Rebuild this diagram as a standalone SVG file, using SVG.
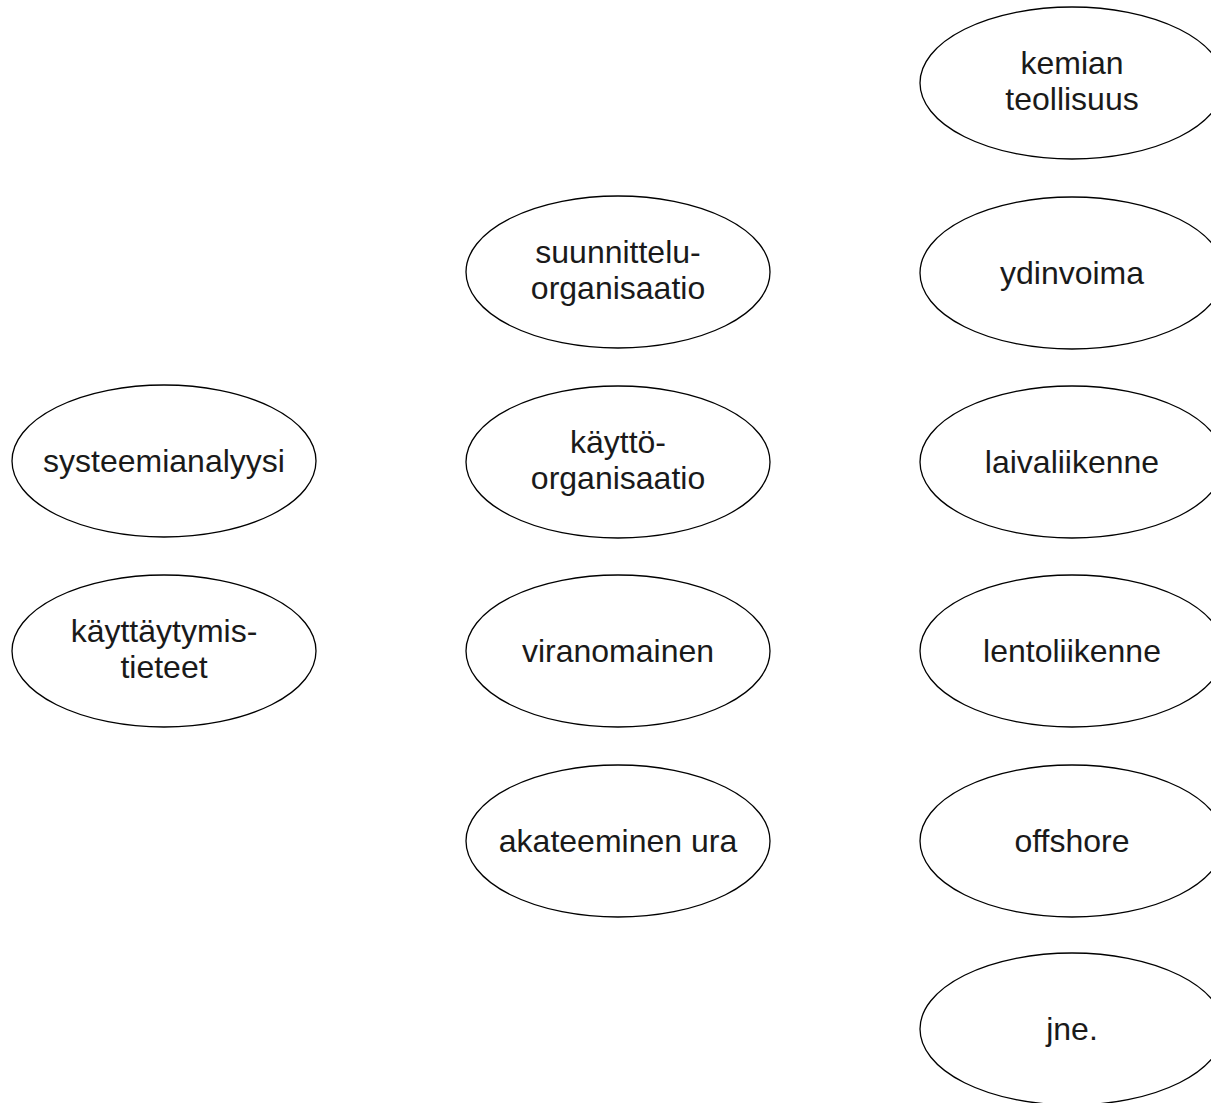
<svg xmlns="http://www.w3.org/2000/svg" width="1211" height="1103" viewBox="0 0 1211 1103">
  <style>
    .node ellipse { fill: #ffffff; stroke: #000000; stroke-width: 1.3; }
    .node text { font-family: "Liberation Sans", Arial, sans-serif; font-size: 32px; fill: #1a1a1a; text-anchor: middle; }
  </style>
  <rect width="1211" height="1103" fill="#ffffff"/>
  <g id="connectors"></g>

  <!-- left column -->
  <g id="systeemianalyysi" class="node">
    <ellipse cx="164" cy="461" rx="152" ry="76"/>
    <text x="164" y="472">systeemianalyysi</text>
  </g>
  <g id="kayttaytymistieteet" class="node">
    <ellipse cx="164" cy="651" rx="152" ry="76"/>
    <text x="164" y="642">käyttäytymis-</text>
    <text x="164" y="678">tieteet</text>
  </g>

  <!-- middle column -->
  <g id="suunnitteluorganisaatio" class="node">
    <ellipse cx="618" cy="272" rx="152" ry="76"/>
    <text x="618" y="263">suunnittelu-</text>
    <text x="618" y="299">organisaatio</text>
  </g>
  <g id="kayttoorganisaatio" class="node">
    <ellipse cx="618" cy="462" rx="152" ry="76"/>
    <text x="618" y="453">käyttö-</text>
    <text x="618" y="489">organisaatio</text>
  </g>
  <g id="viranomainen" class="node">
    <ellipse cx="618" cy="651" rx="152" ry="76"/>
    <text x="618" y="662">viranomainen</text>
  </g>
  <g id="akateeminen-ura" class="node">
    <ellipse cx="618" cy="841" rx="152" ry="76"/>
    <text x="618" y="852">akateeminen ura</text>
  </g>

  <!-- right column -->
  <g id="kemian-teollisuus" class="node">
    <ellipse cx="1072" cy="83" rx="152" ry="76"/>
    <text x="1072" y="74">kemian</text>
    <text x="1072" y="110">teollisuus</text>
  </g>
  <g id="ydinvoima" class="node">
    <ellipse cx="1072" cy="273" rx="152" ry="76"/>
    <text x="1072" y="284">ydinvoima</text>
  </g>
  <g id="laivaliikenne" class="node">
    <ellipse cx="1072" cy="462" rx="152" ry="76"/>
    <text x="1072" y="473">laivaliikenne</text>
  </g>
  <g id="lentoliikenne" class="node">
    <ellipse cx="1072" cy="651" rx="152" ry="76"/>
    <text x="1072" y="662">lentoliikenne</text>
  </g>
  <g id="offshore" class="node">
    <ellipse cx="1072" cy="841" rx="152" ry="76"/>
    <text x="1072" y="852">offshore</text>
  </g>
  <g id="jne" class="node">
    <ellipse cx="1072" cy="1029" rx="152" ry="76"/>
    <text x="1072" y="1040">jne.</text>
  </g>
</svg>
